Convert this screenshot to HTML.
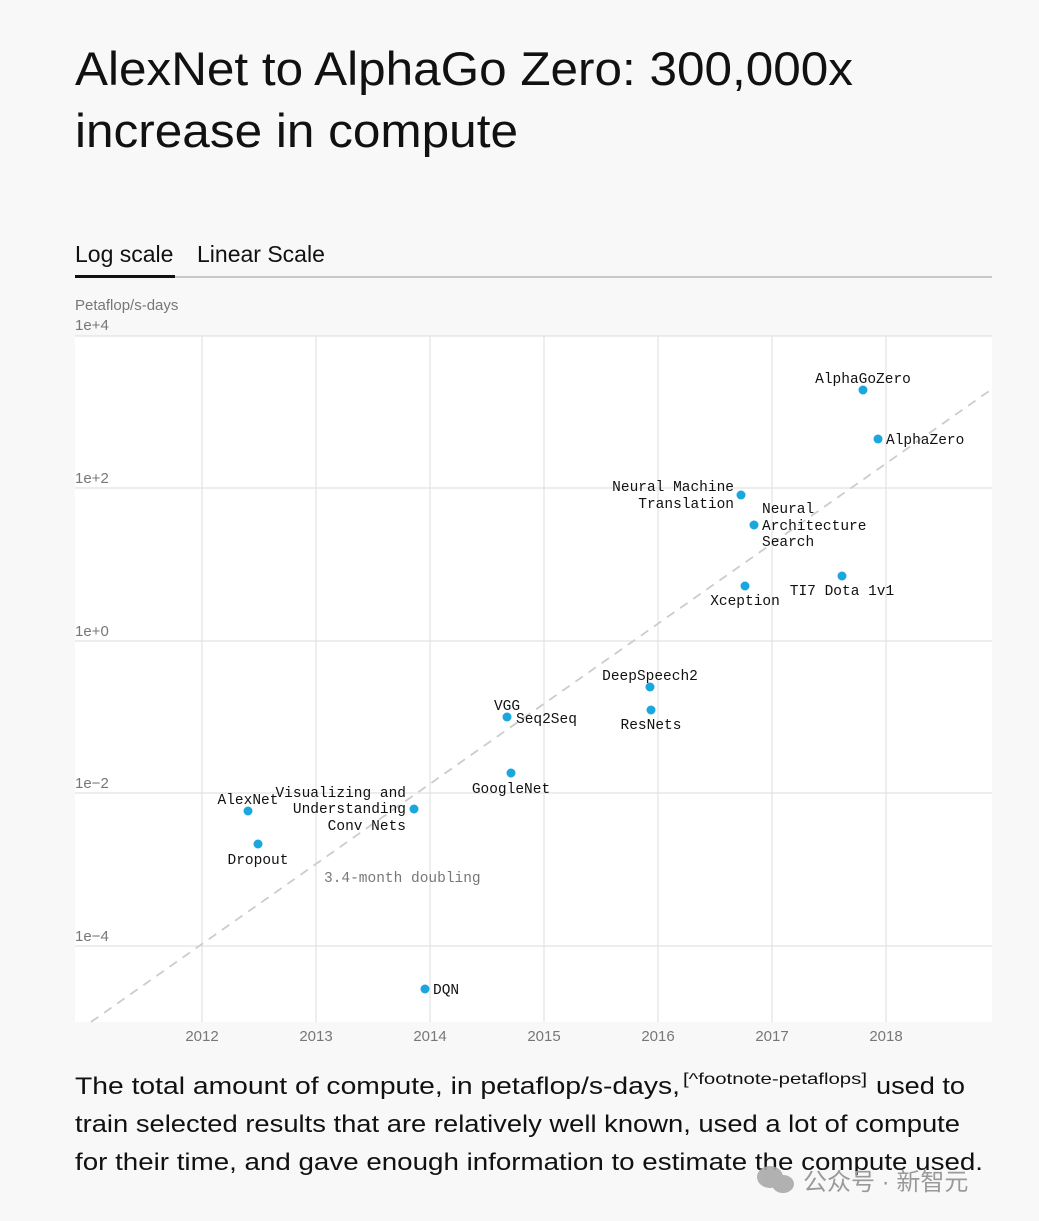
<!DOCTYPE html>
<html><head><meta charset="utf-8"><style>
body{margin:0;background:#f8f8f8;}
svg{display:block}
.m{font-family:"Liberation Mono",monospace;font-size:14.5px;fill:#111}
.s{font-family:"Liberation Sans",sans-serif}
</style></head><body>
<svg width="1039" height="1221" viewBox="0 0 1039 1221">
<rect width="1039" height="1221" fill="#f8f8f8"/>
<text class="s" x="75" y="85" font-size="47" fill="#111" textLength="778" lengthAdjust="spacingAndGlyphs">AlexNet to AlphaGo Zero: 300,000x</text>
<text class="s" x="75" y="147" font-size="47" fill="#111" textLength="443" lengthAdjust="spacingAndGlyphs">increase in compute</text>
<text class="s" x="75" y="262" font-size="23" fill="#111">Log scale</text>
<text class="s" x="197" y="262" font-size="23" fill="#111">Linear Scale</text>
<rect x="75" y="276" width="917" height="2" fill="#c8c8c8"/>
<rect x="75" y="275" width="100" height="3" fill="#111"/>
<text class="s" x="75" y="310" font-size="15" fill="#777">Petaflop/s-days</text>
<text class="s" x="75" y="330" font-size="15" fill="#777">1e+4</text>
<rect x="75" y="336" width="917" height="686" fill="#fff"/>
<g stroke="#e2e2e2" stroke-width="1.2">
<line x1="202" y1="336" x2="202" y2="1022"/><line x1="316" y1="336" x2="316" y2="1022"/><line x1="430" y1="336" x2="430" y2="1022"/><line x1="544" y1="336" x2="544" y2="1022"/><line x1="658" y1="336" x2="658" y2="1022"/><line x1="772" y1="336" x2="772" y2="1022"/><line x1="886" y1="336" x2="886" y2="1022"/>
<line x1="75" y1="336" x2="992" y2="336"/><line x1="75" y1="488" x2="992" y2="488"/><line x1="75" y1="641" x2="992" y2="641"/><line x1="75" y1="793" x2="992" y2="793"/><line x1="75" y1="946" x2="992" y2="946"/>
</g>
<g class="s" font-size="15" fill="#777">
<text x="75" y="483">1e+2</text><text x="75" y="636">1e+0</text><text x="75" y="788">1e−2</text><text x="75" y="941">1e−4</text>
</g>
<g class="s" font-size="15" fill="#777" text-anchor="middle">
<text x="202" y="1041">2012</text><text x="316" y="1041">2013</text><text x="430" y="1041">2014</text><text x="544" y="1041">2015</text><text x="658" y="1041">2016</text><text x="772" y="1041">2017</text><text x="886" y="1041">2018</text>
</g>
<line x1="91" y1="1022" x2="992" y2="389" stroke="#ccc" stroke-width="1.8" stroke-dasharray="9,7"/>
<text class="m" x="324" y="882" style="fill:#777">3.4-month doubling</text>
<g fill="#1aa7e0">
<circle cx="863" cy="390" r="4.5"/><circle cx="878" cy="439" r="4.5"/><circle cx="741" cy="495" r="4.5"/><circle cx="754" cy="525" r="4.5"/><circle cx="745" cy="586" r="4.5"/><circle cx="842" cy="576" r="4.5"/><circle cx="650" cy="687" r="4.5"/><circle cx="651" cy="710" r="4.5"/><circle cx="507" cy="717" r="4.5"/><circle cx="511" cy="773" r="4.5"/><circle cx="248" cy="811" r="4.5"/><circle cx="414" cy="809" r="4.5"/><circle cx="258" cy="844" r="4.5"/><circle cx="425" cy="989" r="4.5"/>
</g>
<g class="m">
<text x="863" y="383" text-anchor="middle">AlphaGoZero</text>
<text x="886" y="444">AlphaZero</text>
<text x="734" y="491" text-anchor="end">Neural Machine</text>
<text x="734" y="508" text-anchor="end">Translation</text>
<text x="762" y="513">Neural</text><text x="762" y="530">Architecture</text><text x="762" y="546">Search</text>
<text x="745" y="605" text-anchor="middle">Xception</text>
<text x="842" y="595" text-anchor="middle">TI7 Dota 1v1</text>
<text x="650" y="680" text-anchor="middle">DeepSpeech2</text>
<text x="651" y="729" text-anchor="middle">ResNets</text>
<text x="507" y="710" text-anchor="middle">VGG</text>
<text x="516" y="723">Seq2Seq</text>
<text x="511" y="793" text-anchor="middle">GoogleNet</text>
<text x="248" y="804" text-anchor="middle">AlexNet</text>
<text x="406" y="797" text-anchor="end">Visualizing and</text>
<text x="406" y="813" text-anchor="end">Understanding</text>
<text x="406" y="830" text-anchor="end">Conv Nets</text>
<text x="258" y="864" text-anchor="middle">Dropout</text>
<text x="433" y="994">DQN</text>
</g>
<g class="s" font-size="24" fill="#111">
<text x="75" y="1094" textLength="605" lengthAdjust="spacingAndGlyphs">The total amount of compute, in petaflop/s-days,</text>
<text x="683" y="1084" font-size="16" textLength="184" lengthAdjust="spacingAndGlyphs">[^footnote-petaflops]</text>
<text x="876" y="1094" textLength="89" lengthAdjust="spacingAndGlyphs">used to</text>
<text x="75" y="1132" textLength="885" lengthAdjust="spacingAndGlyphs">train selected results that are relatively well known, used a lot of compute</text>
<text x="75" y="1170" textLength="908" lengthAdjust="spacingAndGlyphs">for their time, and gave enough information to estimate the compute used.</text>
</g>
<g fill="#aaa" opacity="0.9">
<ellipse cx="770" cy="1177" rx="13" ry="11"/><ellipse cx="783" cy="1184" rx="11" ry="9"/>
</g>
<text x="803" y="1190" font-family="'Liberation Sans','Noto Sans CJK SC',sans-serif" font-size="24" fill="#999">公众号 · 新智元</text>
</svg>
</body></html>
